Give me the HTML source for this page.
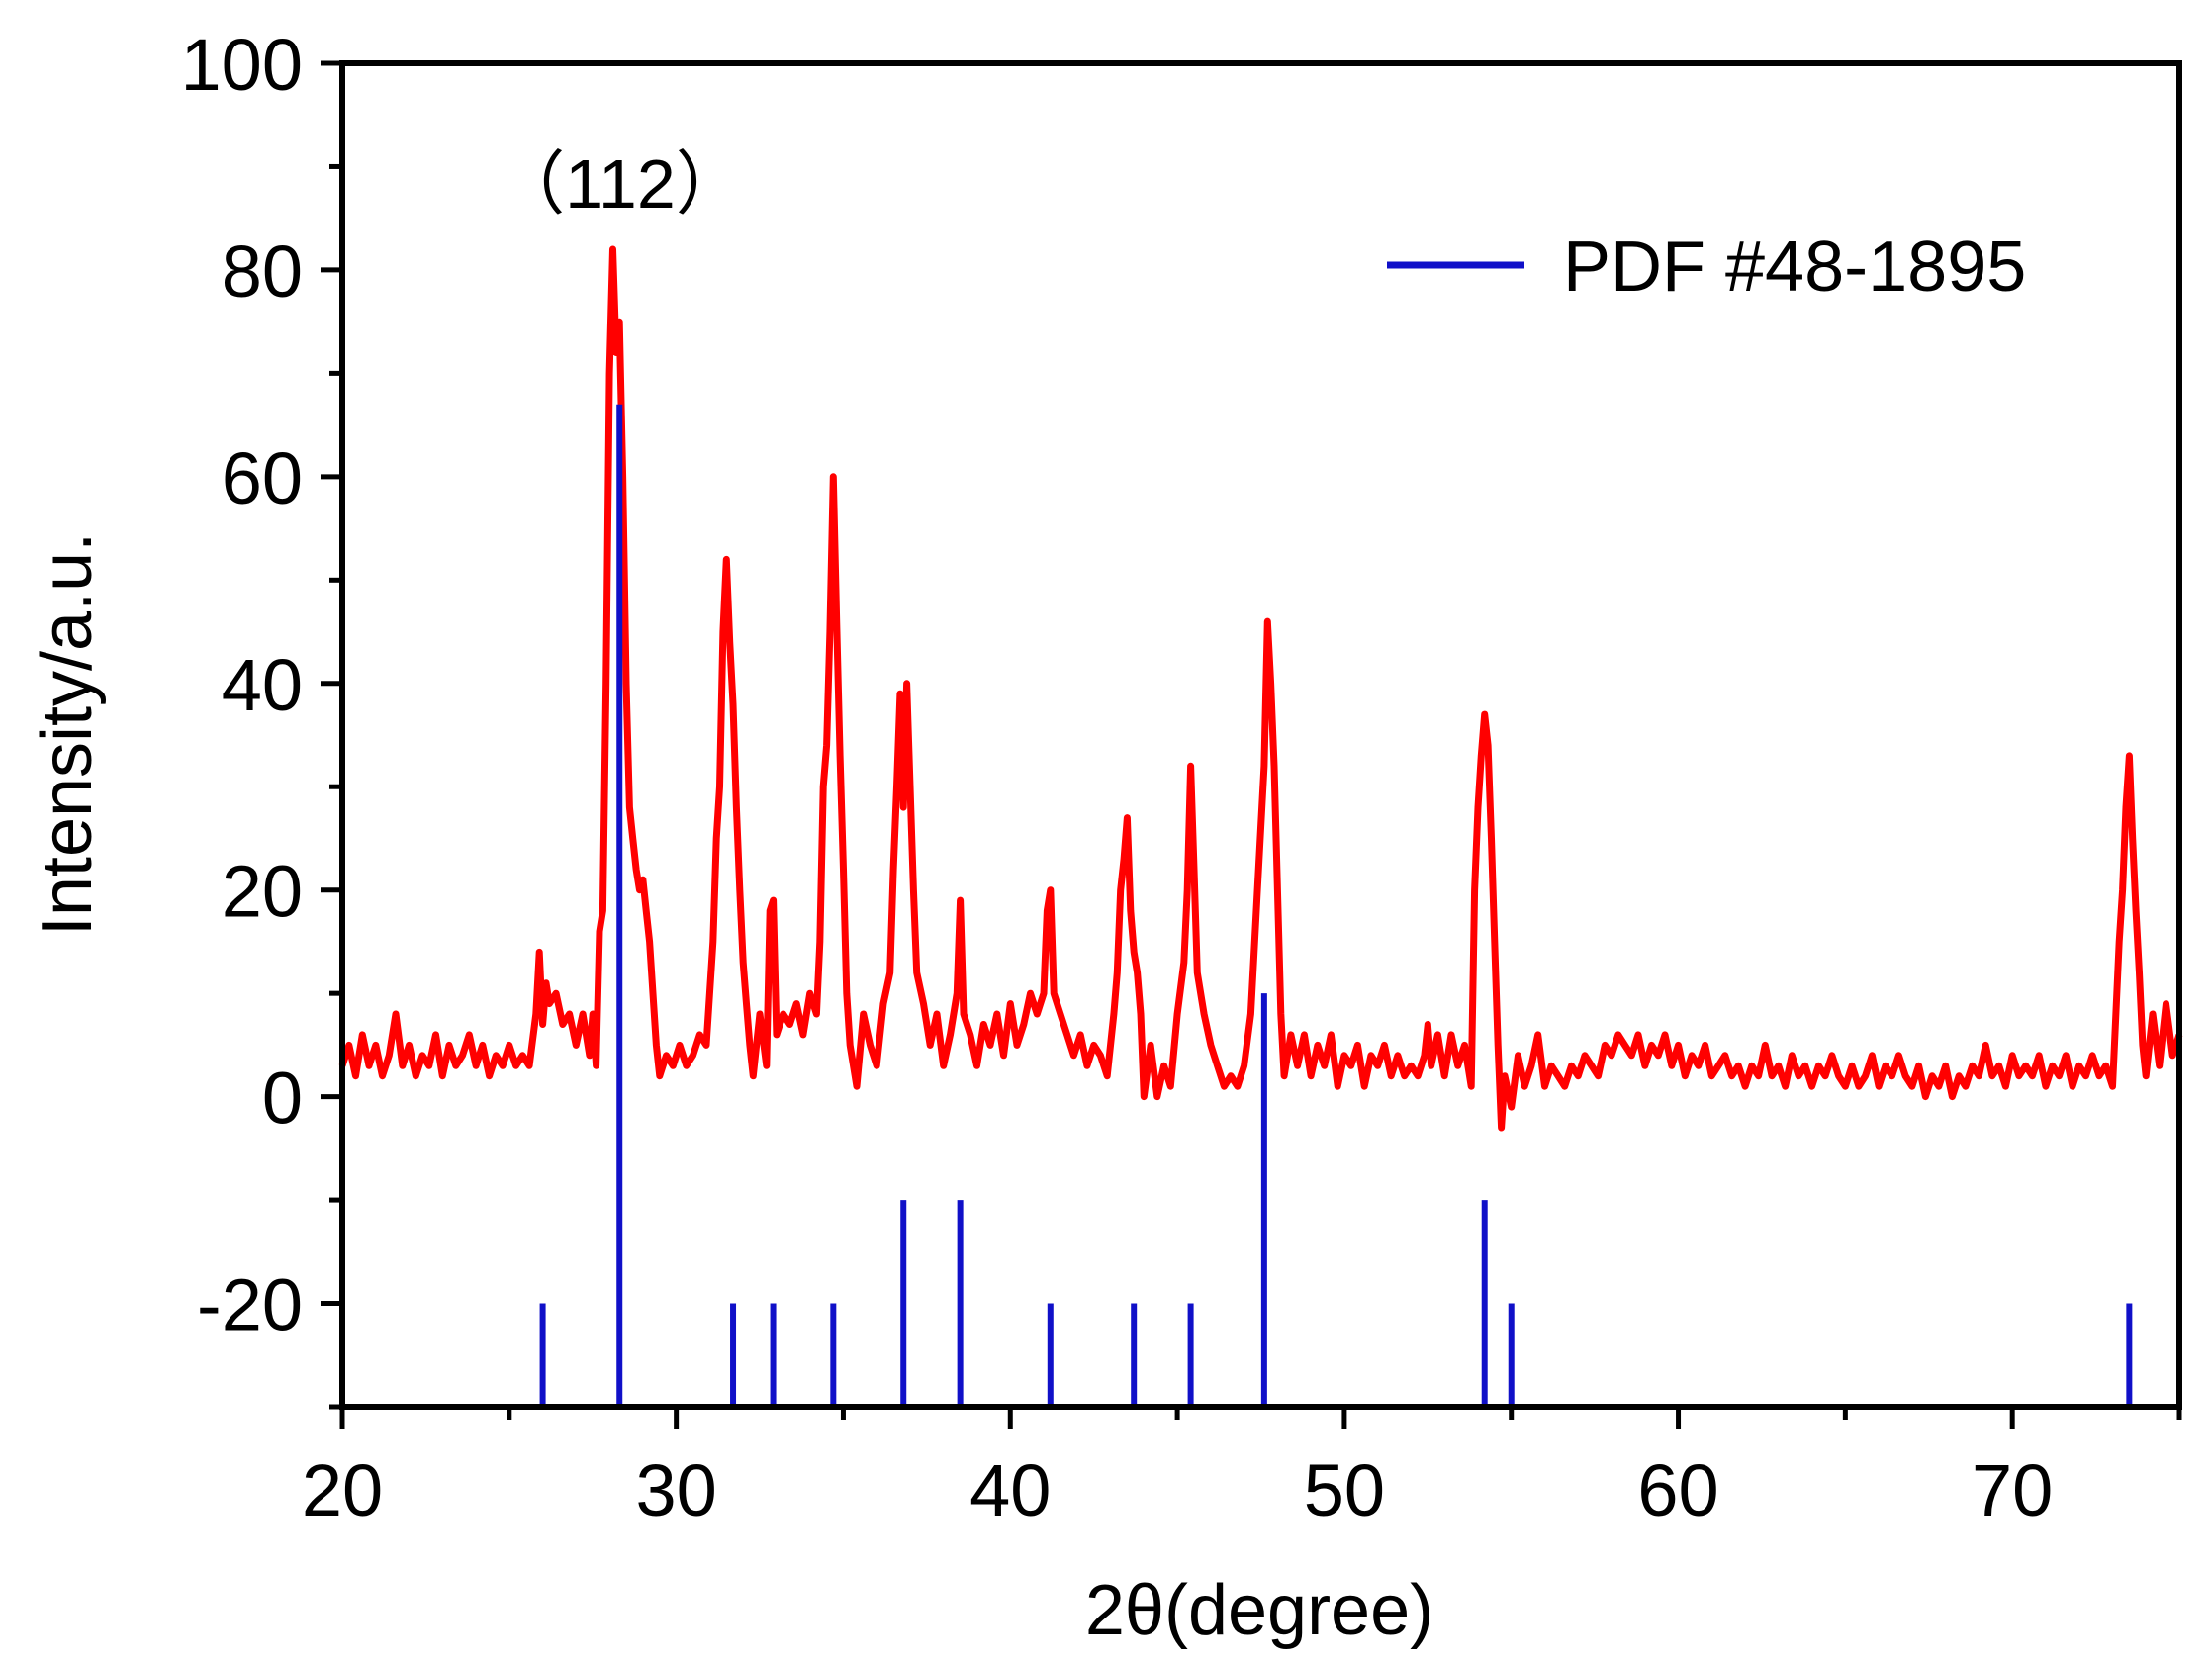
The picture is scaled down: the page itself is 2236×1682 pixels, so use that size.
<!DOCTYPE html>
<html><head><meta charset="utf-8"><style>
html,body{margin:0;padding:0;background:#fff;}
svg{display:block;font-family:"Liberation Sans","Noto Sans CJK SC",sans-serif;}
</style></head><body>
<svg id="chart" width="2236" height="1682" viewBox="0 0 2236 1682" xmlns="http://www.w3.org/2000/svg">
<g id="plot"></g>
<g id="axes"></g>
<text x="627" y="210" font-size="70" text-anchor="middle" font-family="'Liberation Sans','Noto Sans CJK SC',sans-serif">（112）</text>
<g>
<line x1="1402" y1="268" x2="1541" y2="268" stroke="#1010c8" stroke-width="7"/>
<text x="1580" y="294" font-size="72">PDF #48-1895</text>
</g>
<text x="1273" y="1652" font-size="72" text-anchor="middle">2θ(degree)</text>
<text x="0" y="0" font-size="72" text-anchor="middle" transform="translate(92,742) rotate(-90)">Intensity/a.u.</text>
</svg>
<script>
const xTicks = [20,30,40,50,60,70];
const yTicks = [-20,0,20,40,60,80,100];
const stickPos = [26.0,28.3,31.7,32.9,34.7,36.8,38.5,41.2,43.7,45.4,47.6,54.2,55.0,73.5];
const stickVal = [-20,67,-20,-20,-20,-10,-10,-20,-20,-20,10,-10,-20,-20];
const scanX = [20.0,20.2,20.4,20.6,20.8,21.0,21.2,21.4,21.6,21.8,22.0,22.2,22.4,22.6,22.8,23.0,23.2,23.4,23.6,23.8,24.0,24.2,24.4,24.6,24.8,25.0,25.2,25.4,25.6,25.8,25.9,26.0,26.1,26.2,26.4,26.6,26.8,27.0,27.2,27.4,27.5,27.6,27.7,27.8,27.9,28.0,28.1,28.2,28.3,28.4,28.5,28.6,28.7,28.8,28.9,29.0,29.1,29.2,29.3,29.4,29.5,29.7,29.9,30.1,30.3,30.5,30.7,30.9,31.0,31.1,31.2,31.3,31.4,31.5,31.6,31.7,31.8,31.9,32.0,32.1,32.2,32.3,32.5,32.7,32.8,32.9,33.0,33.2,33.4,33.6,33.8,34.0,34.2,34.3,34.4,34.5,34.6,34.7,34.8,34.9,35.0,35.1,35.2,35.4,35.6,35.8,36.0,36.2,36.4,36.5,36.6,36.7,36.8,36.9,37.0,37.1,37.2,37.4,37.6,37.8,38.0,38.2,38.4,38.5,38.6,38.8,39.0,39.2,39.4,39.6,39.8,40.0,40.2,40.4,40.6,40.8,41.0,41.1,41.2,41.3,41.5,41.7,41.9,42.1,42.3,42.5,42.7,42.9,43.1,43.2,43.3,43.4,43.5,43.6,43.7,43.8,43.9,44.0,44.2,44.4,44.6,44.8,45.0,45.2,45.3,45.4,45.5,45.6,45.8,46.0,46.2,46.4,46.6,46.8,47.0,47.2,47.4,47.6,47.7,47.8,47.9,48.0,48.1,48.2,48.4,48.6,48.8,49.0,49.2,49.4,49.6,49.8,50.0,50.2,50.4,50.6,50.8,51.0,51.2,51.4,51.6,51.8,52.0,52.2,52.4,52.5,52.6,52.8,53.0,53.2,53.4,53.6,53.8,53.9,54.0,54.1,54.2,54.3,54.4,54.5,54.6,54.7,54.8,55.0,55.2,55.4,55.6,55.8,56.0,56.2,56.4,56.6,56.8,57.0,57.2,57.4,57.6,57.8,58.0,58.2,58.4,58.6,58.8,59.0,59.2,59.4,59.6,59.8,60.0,60.2,60.4,60.6,60.8,61.0,61.2,61.4,61.6,61.8,62.0,62.2,62.4,62.6,62.8,63.0,63.2,63.4,63.6,63.8,64.0,64.2,64.4,64.6,64.8,65.0,65.2,65.4,65.6,65.8,66.0,66.2,66.4,66.6,66.8,67.0,67.2,67.4,67.6,67.8,68.0,68.2,68.4,68.6,68.8,69.0,69.2,69.4,69.6,69.8,70.0,70.2,70.4,70.6,70.8,71.0,71.2,71.4,71.6,71.8,72.0,72.2,72.4,72.6,72.8,73.0,73.2,73.3,73.4,73.5,73.6,73.7,73.8,73.9,74.0,74.2,74.4,74.6,74.8,75.0];
const scanY = [3,5,2,6,3,5,2,4,8,3,5,2,4,3,6,2,5,3,4,6,3,5,2,4,3,5,3,4,3,8,14,7,11,9,10,7,8,5,8,4,8,3,16,18,40,70,82,72,75,60,40,28,25,22,20,21,18,15,10,5,2,4,3,5,3,4,6,5,10,15,25,30,45,52,44,38,28,20,13,9,5,2,8,3,18,19,6,8,7,9,6,10,8,15,30,34,45,60,46,33,22,10,5,1,8,5,3,9,12,22,30,39,28,40,30,20,12,9,5,8,3,6,10,19,8,6,3,7,5,8,4,9,5,7,10,8,10,18,20,10,8,6,4,6,3,5,4,2,8,12,20,23,27,18,14,12,8,0,5,0,3,1,8,13,20,32,22,12,8,5,3,1,2,1,3,8,20,32,46,40,32,20,8,2,6,3,6,2,5,3,6,1,4,3,5,1,4,3,5,2,4,2,3,2,4,7,3,6,2,6,3,5,1,20,28,33,37,34,25,15,5,-3,2,-1,4,1,3,6,1,3,2,1,3,2,4,3,2,5,4,6,5,4,6,3,5,4,6,3,5,2,4,3,5,2,3,4,2,3,1,3,2,5,2,3,1,4,2,3,1,3,2,4,2,1,3,1,2,4,1,3,2,4,2,1,3,0,2,1,3,0,2,1,3,2,5,2,3,1,4,2,3,2,4,1,3,2,4,1,3,2,4,2,3,1,15,20,28,33,25,18,12,5,2,8,3,9,4,6];

const L=346,R=2203,T=64,B=1422,X0=20,X1=75,Y0=-30,Y1=100;
function sx(v){return L+(v-X0)/(X1-X0)*(R-L);}
function sy(v){return B-(v-Y0)/(Y1-Y0)*(B-T);}
const NS='http://www.w3.org/2000/svg';
function mk(tag,attrs,parent){const e=document.createElementNS(NS,tag);for(const k in attrs)e.setAttribute(k,attrs[k]);parent.appendChild(e);return e;}
const plot=document.getElementById('plot');
const axes=document.getElementById('axes');

let d='';
for(let i=0;i<scanX.length;i++){d+=(i?'L':'M')+sx(scanX[i]).toFixed(1)+' '+sy(scanY[i]).toFixed(1);}
const scan=mk('path',{d:d,fill:'none',stroke:'#ff0000','stroke-width':7,'stroke-linejoin':'round'},plot);



for(let i=0;i<stickPos.length;i++){
  const s=mk('line',{x1:sx(stickPos[i]),x2:sx(stickPos[i]),y1:sy(Y0),y2:sy(stickVal[i]),stroke:'#1010c8','stroke-width':6},plot);
  
  
}

const fr=mk('rect',{x:L,y:T,width:R-L,height:B-T,fill:'none',stroke:'#000','stroke-width':6},axes);



for(let v=X0;v<=X1;v+=5){
  const major=v%10===0;
  const t=mk('line',{x1:sx(v),x2:sx(v),y1:B,y2:B+(major?22:13),stroke:'#000','stroke-width':5},axes);
  
  
}
xTicks.forEach(v=>{
  const t=mk('text',{x:sx(v),y:1532,'font-size':74,'text-anchor':'middle'},axes);
  t.textContent=v;
  
  
});
for(let v=Y0;v<=Y1;v+=10){
  const major=v%20===0;
  const t=mk('line',{x1:L,x2:L-(major?22:13),y1:sy(v),y2:sy(v),stroke:'#000','stroke-width':5},axes);
  
  
}
yTicks.forEach(v=>{
  const t=mk('text',{x:306,y:sy(v)+27,'font-size':74,'text-anchor':'end'},axes);
  t.textContent=v;
  
  
});
</script>
</body></html>
